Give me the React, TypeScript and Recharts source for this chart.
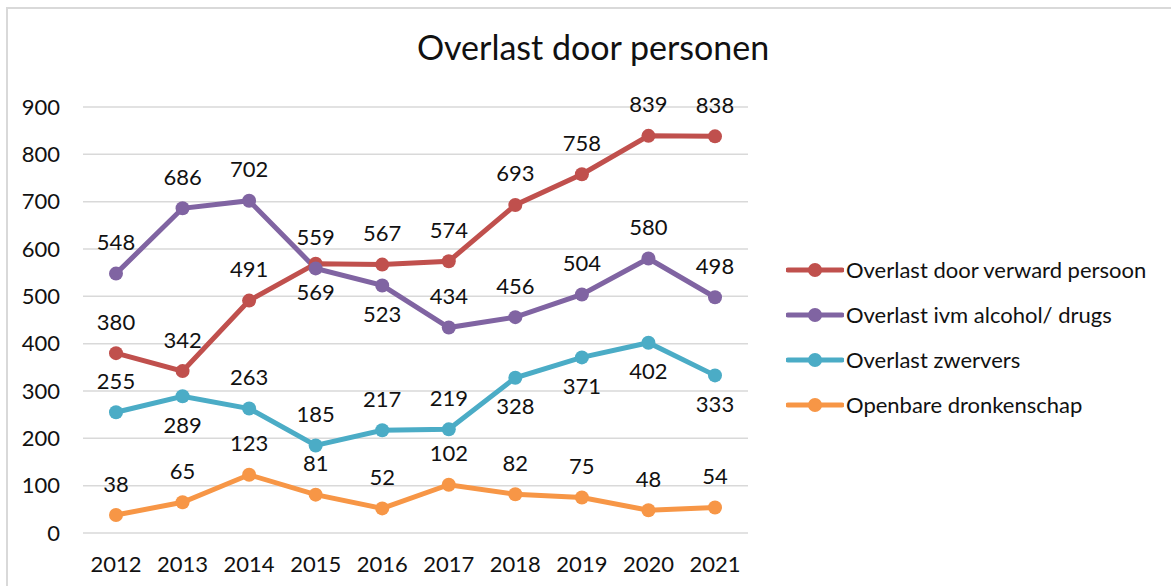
import { LineChart, Line, XAxis, YAxis, CartesianGrid, LabelList } from "recharts";

const years = ["2012", "2013", "2014", "2015", "2016", "2017", "2018", "2019", "2020", "2021"];

const verward = [380, 342, 491, 569, 567, 574, 693, 758, 839, 838];
const alcoholDrugs = [548, 686, 702, 559, 523, 434, 456, 504, 580, 498];
const zwervers = [255, 289, 263, 185, 217, 219, 328, 371, 402, 333];
const dronkenschap = [38, 65, 123, 81, 52, 102, 82, 75, 48, 54];

// where each data label sits: above or below the point
const verwardLabelPos = ["up", "up", "up", "down", "up", "up", "up", "up", "up", "up"];
const alcoholLabelPos = ["up", "up", "up", "up", "down", "up", "up", "up", "up", "up"];
const zwerversLabelPos = ["up", "down", "up", "up", "up", "up", "down", "down", "down", "down"];
const dronkenLabelPos = ["up", "up", "up", "up", "up", "up", "up", "up", "up", "up"];

const yTicks = [0, 100, 200, 300, 400, 500, 600, 700, 800, 900];

const data = years.map((year, i) => ({
  year,
  verward: verward[i],
  alcohol: alcoholDrugs[i],
  zwervers: zwervers[i],
  dronken: dronkenschap[i],
}));

const series = [
  { key: "verward", name: "Overlast door verward persoon", color: "#C0504D", pos: verwardLabelPos },
  { key: "alcohol", name: "Overlast ivm alcohol/ drugs", color: "#8064A2", pos: alcoholLabelPos },
  { key: "zwervers", name: "Overlast zwervers", color: "#4BACC6", pos: zwerversLabelPos },
  { key: "dronken", name: "Openbare dronkenschap", color: "#F79646", pos: dronkenLabelPos },
];

const FONT = "Lato, 'Noto Sans', sans-serif";

const makeLabel = (pos: string[]) => (props: any) => {
  const { x, y, value, index } = props;
  const dy = pos[index] === "down" ? 28 : -32;
  return (
    <text x={x} y={y + dy} textAnchor="middle" dominantBaseline="central" fontSize={22} fontFamily={FONT} fill="#111">
      {value}
    </text>
  );
};

const LegendBox = () => (
  <div style={{ fontFamily: FONT, fontSize: 22, color: "#111" }}>
    {series.map((s) => (
      <div key={s.key} style={{ display: "flex", alignItems: "center", height: 45 }}>
        <svg width={58} height={20} style={{ marginRight: 2 }}>
          <line x1={2} y1={10} x2={56} y2={10} stroke={s.color} strokeWidth={5} strokeLinecap="round" />
          <circle cx={29} cy={10} r={7} fill={s.color} />
        </svg>
        <span>{s.name}</span>
      </div>
    ))}
  </div>
);

export default function App() {
  return (
    <div style={{ position: "absolute", left: 0, top: 0, width: 1171, height: 586, background: "#fff", overflow: "hidden" }}>
      <div style={{ position: "absolute", left: 6, top: 7, width: 1200, height: 600, border: "2px solid #d9d9d9" }} />
      <div style={{ position: "absolute", left: 0, top: 26, width: 1186, textAlign: "center", fontFamily: FONT, fontSize: 34, color: "#111" }}>
        Overlast door personen
      </div>
      <div style={{ position: "absolute", left: 0, top: 0 }}>
        <LineChart width={1171} height={586} data={data} margin={{ top: 107, right: 423, bottom: 0, left: 0 }}>
          <CartesianGrid vertical={false} stroke="#d9d9d9" strokeWidth={1.5} />
          <XAxis
            dataKey="year"
            axisLine={false}
            tickLine={false}
            tickSize={0}
            tickMargin={23}
            height={53}
            padding={{ left: 33, right: 33 }}
            tick={{ fontSize: 22, fontFamily: FONT, fill: "#111" }}
          />
          <YAxis
            domain={[0, 900]}
            ticks={yTicks}
            interval={0}
            axisLine={false}
            tickLine={false}
            tickSize={0}
            tickMargin={23}
            width={83}
            tick={{ fontSize: 22, fontFamily: FONT, fill: "#111" }}
          />
          {series.map((s) => (
            <Line
              key={s.key}
              dataKey={s.key}
              name={s.name}
              stroke={s.color}
              strokeWidth={5}
              dot={{ r: 7, fill: s.color, stroke: s.color, strokeWidth: 0 }}
              activeDot={false}
              isAnimationActive={false}
            >
              <LabelList dataKey={s.key} content={makeLabel(s.pos)} />
            </Line>
          ))}
        </LineChart>
      </div>
      <div style={{ position: "absolute", left: 786, top: 247, width: 385 }}>
        <LegendBox />
      </div>
    </div>
  );
}
